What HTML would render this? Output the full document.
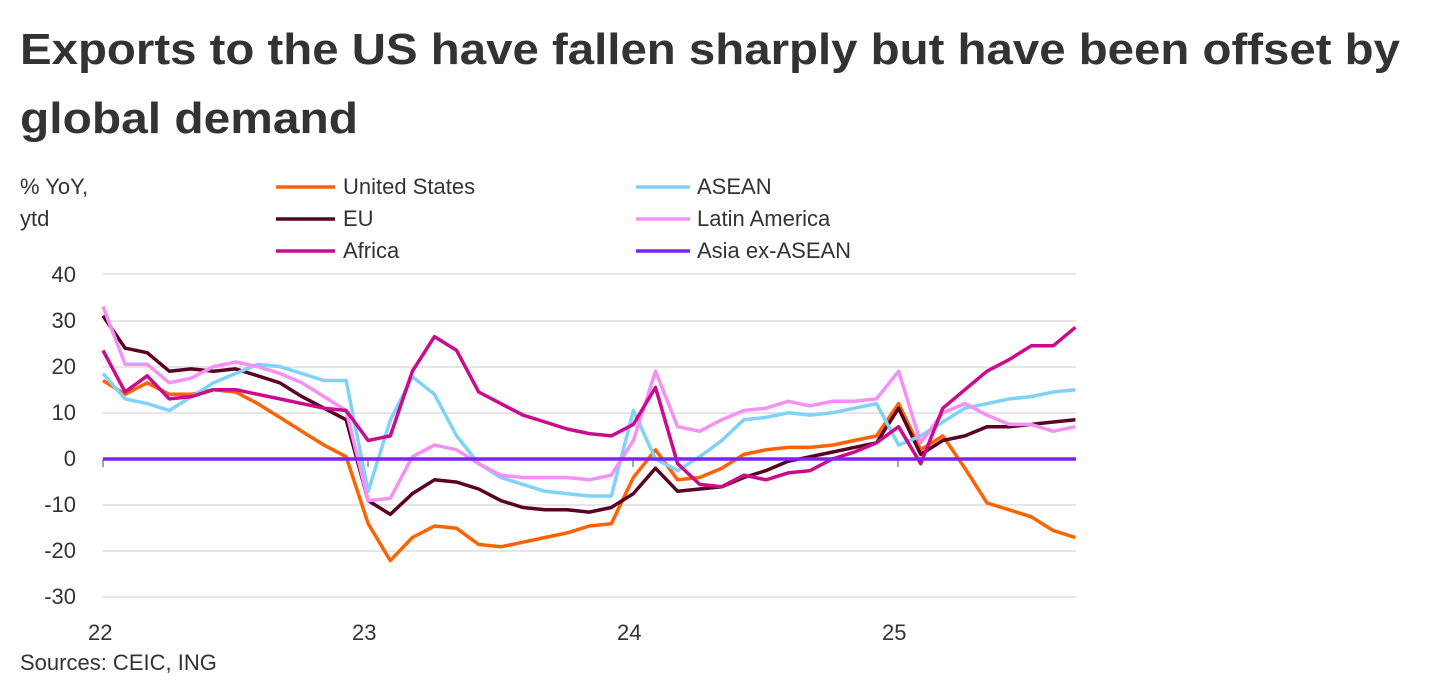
<!DOCTYPE html>
<html><head><meta charset="utf-8"><style>
body{margin:0;background:#fff;}
svg{display:block;font-family:"Liberation Sans",sans-serif;}
</style></head><body>
<svg width="1440" height="700" viewBox="0 0 1440 700" xmlns="http://www.w3.org/2000/svg">
<text x="20" y="64" font-size="44" font-weight="bold" fill="#333" textLength="1380" lengthAdjust="spacingAndGlyphs">Exports to the US have fallen sharply but have been offset by</text>
<text x="20" y="133" font-size="44" font-weight="bold" fill="#333" textLength="338" lengthAdjust="spacingAndGlyphs">global demand</text>
<g font-size="22" fill="#333">
<text x="20" y="194">% YoY,</text>
<text x="20" y="226">ytd</text>
<text x="343" y="194">United States</text>
<text x="343" y="226">EU</text>
<text x="343" y="258">Africa</text>
<text x="697" y="194">ASEAN</text>
<text x="697" y="226">Latin America</text>
<text x="697" y="258">Asia ex-ASEAN</text>
</g>
<g stroke-width="3.5">
<line x1="276" y1="187" x2="335" y2="187" stroke="#ff6200"/>
<line x1="276" y1="219" x2="335" y2="219" stroke="#5a0024"/>
<line x1="276" y1="251" x2="335" y2="251" stroke="#cc0a8c"/>
<line x1="636" y1="187" x2="690" y2="187" stroke="#7fd2fa"/>
<line x1="636" y1="219" x2="690" y2="219" stroke="#f590f5"/>
<line x1="636" y1="251" x2="690" y2="251" stroke="#8020ff"/>
</g>
<g stroke="#dedede" stroke-width="1.5">
<line x1="103" x2="1076" y1="274" y2="274"/><line x1="103" x2="1076" y1="321" y2="321"/>
<line x1="103" x2="1076" y1="367" y2="367"/><line x1="103" x2="1076" y1="413" y2="413"/>
<line x1="103" x2="1076" y1="505" y2="505"/><line x1="103" x2="1076" y1="551" y2="551"/>
<line x1="103" x2="1076" y1="597" y2="597"/>
</g>
<g stroke="#888" stroke-width="1.5">
<line x1="103" x2="103" y1="459" y2="467"/><line x1="368" x2="368" y1="459" y2="467"/>
<line x1="633" x2="633" y1="459" y2="467"/><line x1="898" x2="898" y1="459" y2="467"/>
</g>
<g font-size="22" fill="#333" text-anchor="end">
<text x="76" y="282">40</text><text x="76" y="328">30</text><text x="76" y="374">20</text>
<text x="76" y="420">10</text><text x="76" y="466">0</text><text x="76" y="512">-10</text>
<text x="76" y="558">-20</text><text x="76" y="604">-30</text>
</g>
<g font-size="22" fill="#333">
<text x="88" y="640">22</text><text x="352" y="640">23</text><text x="617" y="640">24</text><text x="882" y="640">25</text>
<text x="20" y="670">Sources: CEIC, ING</text>
</g>
<g id="series" fill="none" stroke-width="3.5" stroke-linejoin="round"></g>
<line x1="103" x2="1076" y1="459" y2="459" stroke="#8020ff" stroke-width="3.5"/>
<script>
var D=[
["#ff6200",[17,14,16.5,14,14,15,14.5,12,9,6,3,0.5,-14,-22,-17,-14.5,-15,-18.5,-19,-18,-17,-16,-14.5,-14,-4,2,-4.5,-4,-2,1,2,2.5,2.5,3,4,5,12,2,5,-2,-9.5,-11,-12.5,-15.5,-17]],
["#5a0024",[31,24,23,19,19.5,19,19.5,18,16.5,13.5,11,8.5,-9,-12,-7.5,-4.5,-5,-6.5,-9,-10.5,-11,-11,-11.5,-10.5,-7.5,-2,-7,-6.5,-6,-4,-2.5,-0.5,0.5,1.5,2.5,3.5,11,1,4,5,7,7,7.5,8,8.5]],
["#7fd2fa",[18.5,13,12,10.5,13.5,16.5,18.5,20.5,20,18.5,17,17,-7,8.4,17.8,14,5,-1,-4,-5.5,-7,-7.5,-8,-8,10.5,0,-2.5,0.5,4,8.5,9,10,9.5,10,11,12,3,5,8,11,12,13,13.5,14.5,15]],
["#f590f5",[33,20.5,20.5,16.5,17.5,20,21,20,18.5,16.5,13.5,10.5,-9,-8.5,0.5,3,2,-1,-3.5,-4,-4,-4,-4.5,-3.5,4,19,7,6,8.5,10.5,11,12.5,11.5,12.5,12.5,13,19,3.5,10,12,9.5,7.5,7.5,6,7]],
["#cc0a8c",[23.5,14.5,18,13,13.5,15,15,14,13,12,11,10.5,4,5,19,26.5,23.5,14.5,12,9.5,8,6.5,5.5,5,7.5,15.5,-1,-5.5,-6,-3.5,-4.5,-3,-2.5,0,1.5,3.5,7,-1,11,15,19,21.5,24.5,24.5,28.5]]
];
var g=document.getElementById("series"),ns="http://www.w3.org/2000/svg";
D.forEach(function(s){var p=s[1].map(function(v,i){return (103+i*22.1).toFixed(1)+","+(459-4.62*v).toFixed(1)}).join(" ");
var e=document.createElementNS(ns,"polyline");e.setAttribute("points",p);e.setAttribute("stroke",s[0]);g.appendChild(e);});
</script>
</svg>
</body></html>
